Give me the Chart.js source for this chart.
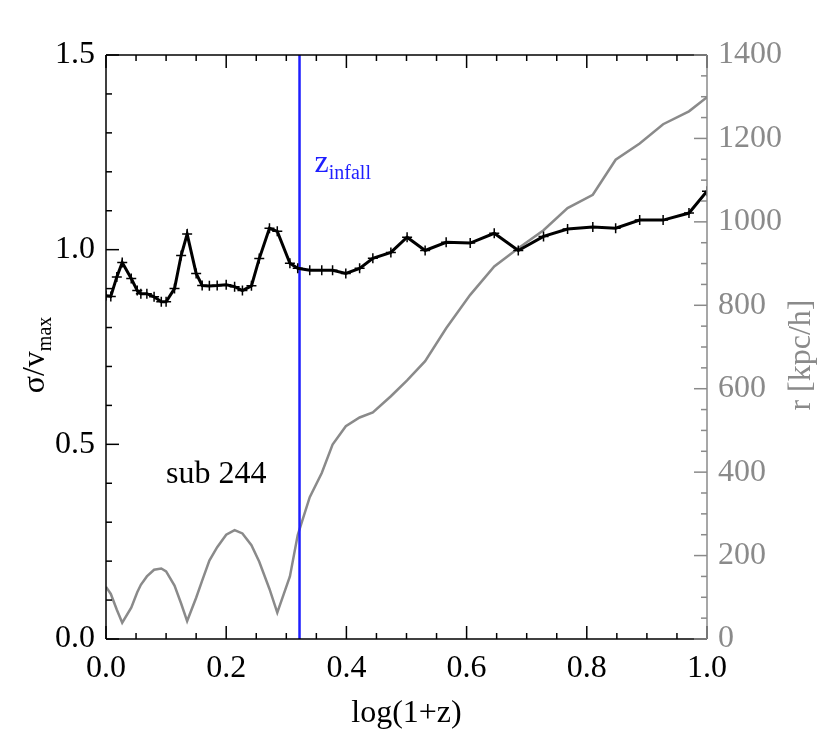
<!DOCTYPE html>
<html>
<head>
<meta charset="utf-8">
<script src="https://cdn.jsdelivr.net/npm/chart.js@4.4.0/dist/chart.umd.min.js"></script>
<style>
  html, body { margin: 0; padding: 0; background: #fff; }
  #wrap { width: 830px; height: 751px; }
</style>
</head>
<body>
<div id="wrap"><canvas id="chart" width="830" height="751"></canvas></div>
<script>
// log(1+z) of each snapshot
const logZ = [0.000, 0.008, 0.018, 0.027, 0.042, 0.052, 0.058, 0.068, 0.080, 0.092,
  0.100, 0.114, 0.125, 0.135, 0.150, 0.160, 0.172, 0.185, 0.200, 0.214,
  0.227, 0.242, 0.255, 0.272, 0.285, 0.306, 0.319, 0.339, 0.359, 0.377,
  0.399, 0.422, 0.444, 0.474, 0.501, 0.531, 0.566, 0.606, 0.646, 0.686,
  0.728, 0.768, 0.810, 0.848, 0.888, 0.927, 0.970, 1.000];

// sigma / v_max (left axis)
const sigmaVmax = [0.882, 0.880, 0.930, 0.967, 0.926, 0.895, 0.887, 0.887, 0.879, 0.866,
  0.866, 0.900, 0.985, 1.040, 0.939, 0.908, 0.907, 0.908, 0.910, 0.905,
  0.895, 0.907, 0.977, 1.055, 1.047, 0.965, 0.952, 0.947, 0.947, 0.947,
  0.939, 0.952, 0.978, 0.993, 1.032, 0.998, 1.019, 1.017, 1.042, 0.998,
  1.034, 1.053, 1.058, 1.055, 1.076, 1.076, 1.094, 1.150];

// distance r [kpc/h] (right axis)
const rDist = [125, 108, 70, 39, 75, 112, 130, 150, 166, 169,
  162, 128, 85, 43, 99, 140, 188, 220, 250, 261,
  253, 225, 185, 120, 63, 150, 249, 340, 398, 466,
  510, 531, 543, 582, 620, 666, 745, 825, 893, 937,
  980, 1033, 1065, 1149, 1188, 1234, 1265, 1299];

const zInfall = 0.322;
const subLabel = 'sub 244';

const FONT = "'Liberation Serif', 'Times New Roman', serif";
const GRAY = '#8a8a8a';
const BLUE = '#1e1eff';

// inward ticks + frame + texts with subscripts
const frameTicks = {
  id: 'frameTicks',
  afterDraw(chart) {
    const { ctx, chartArea: a } = chart;
    const sx = chart.scales.x, sy = chart.scales.y, sy2 = chart.scales.y2;
    const seg = (x1, y1, x2, y2) => { ctx.beginPath(); ctx.moveTo(x1, y1); ctx.lineTo(x2, y2); ctx.stroke(); };
    ctx.save();
    ctx.lineWidth = 1.5;
    ctx.strokeStyle = '#000';

    // x ticks, bottom and top
    for (let i = 0; i <= 20; i++) {
      const px = sx.getPixelForValue(i * 0.05);
      const len = i % 4 === 0 ? 13 : 6;
      seg(px, a.bottom, px, a.bottom - len);
      seg(px, a.top, px, a.top + len);
    }
    // left ticks
    for (let i = 0; i <= 15; i++) {
      const py = sy.getPixelForValue(i * 0.1);
      const len = i % 5 === 0 ? 13 : 6;
      seg(a.left, py, a.left + len, py);
    }
    seg(a.left, a.top, a.left, a.bottom);
    seg(a.left, a.bottom, a.right, a.bottom);
    seg(a.left, a.top, a.right, a.top);

    // right axis in gray
    ctx.strokeStyle = GRAY;
    for (let i = 0; i <= 28; i++) {
      const py = sy2.getPixelForValue(i * 50);
      const len = i % 4 === 0 ? 13 : 6;
      seg(a.right, py, a.right - len, py);
    }
    seg(a.right, a.top, a.right, a.bottom);

    // z_infall label
    const zx = sx.getPixelForValue(zInfall) + 15;
    const zy = sy.getPixelForValue(1.2);
    ctx.fillStyle = BLUE;
    ctx.textBaseline = 'alphabetic';
    ctx.textAlign = 'left';
    ctx.font = '32px ' + FONT;
    ctx.fillText('z', zx, zy);
    const zw = ctx.measureText('z').width;
    ctx.font = '20px ' + FONT;
    ctx.fillText('infall', zx + zw, zy + 7);

    // sub label
    ctx.fillStyle = '#000';
    ctx.font = '32px ' + FONT;
    ctx.fillText(subLabel, sx.getPixelForValue(0.1), sy.getPixelForValue(0.4));

    // x title
    ctx.textAlign = 'center';
    ctx.fillText('log(1+z)', (a.left + a.right) / 2, 722);

    // left title sigma/v_max, rotated
    ctx.save();
    ctx.translate(44, (a.top + a.bottom) / 2 + 8);
    ctx.rotate(-Math.PI / 2);
    ctx.textAlign = 'left';
    ctx.font = '32px ' + FONT;
    const mainW = ctx.measureText('σ/v').width;
    ctx.font = '20px ' + FONT;
    const subW = ctx.measureText('max').width;
    const x0 = -(mainW + subW) / 2;
    ctx.font = '32px ' + FONT;
    ctx.fillText('σ/v', x0, 0);
    ctx.font = '20px ' + FONT;
    ctx.fillText('max', x0 + mainW, 7);
    ctx.restore();

    // right title
    ctx.save();
    ctx.translate(810, (a.top + a.bottom) / 2 + 8);
    ctx.rotate(-Math.PI / 2);
    ctx.textAlign = 'center';
    ctx.fillStyle = GRAY;
    ctx.font = '32px ' + FONT;
    ctx.fillText('r [kpc/h]', 0, 0);
    ctx.restore();

    ctx.restore();
  }
};

const sigmaPoints = logZ.map((x, i) => ({ x: x, y: sigmaVmax[i] }));
const rPoints = logZ.map((x, i) => ({ x: x, y: rDist[i] }));
const infallLine = [{ x: zInfall, y: 0 }, { x: zInfall, y: 1.5 }];

new Chart(document.getElementById('chart'), {
  type: 'line',
  data: {
    datasets: [
      {
        label: 'sigma/vmax',
        data: sigmaPoints,
        yAxisID: 'y',
        borderColor: '#000',
        borderWidth: 3,
        pointStyle: 'cross',
        pointRadius: 5,
        pointBorderWidth: 1.5,
        pointBorderColor: '#000',
        tension: 0,
        order: 1
      },
      {
        label: 'z infall',
        data: infallLine,
        yAxisID: 'y',
        borderColor: BLUE,
        borderWidth: 2.5,
        pointRadius: 0,
        order: 2
      },
      {
        label: 'r',
        data: rPoints,
        yAxisID: 'y2',
        borderColor: GRAY,
        borderWidth: 2.5,
        pointRadius: 0,
        tension: 0,
        order: 3
      }
    ]
  },
  options: {
    responsive: false,
    animation: false,
    layout: { padding: { top: 55, left: 0, right: 0, bottom: 0 } },
    plugins: {
      legend: { display: false },
      tooltip: { enabled: false }
    },
    scales: {
      x: {
        type: 'linear',
        position: 'bottom',
        min: 0,
        max: 1,
        grid: { display: false, drawTicks: false },
        border: { display: false },
        ticks: {
          stepSize: 0.2,
          color: '#000',
          padding: 10,
          maxRotation: 0,
          font: { family: FONT, size: 32 },
          callback: v => v.toFixed(1)
        },
        afterFit(scale) { scale.height = 112; }
      },
      y: {
        position: 'left',
        min: 0,
        max: 1.5,
        grid: { display: false, drawTicks: false },
        border: { display: false },
        ticks: {
          stepSize: 0.5,
          color: '#000',
          padding: 11,
          font: { family: FONT, size: 32 },
          callback: v => v.toFixed(1)
        },
        afterFit(scale) { scale.width = 106; }
      },
      y2: {
        position: 'right',
        min: 0,
        max: 1400,
        grid: { display: false, drawTicks: false },
        border: { display: false },
        ticks: {
          stepSize: 200,
          color: GRAY,
          padding: 11,
          font: { family: FONT, size: 32 },
          callback: v => String(v)
        },
        afterFit(scale) { scale.width = 123; }
      }
    }
  },
  plugins: [frameTicks]
});
</script>
</body>
</html>
